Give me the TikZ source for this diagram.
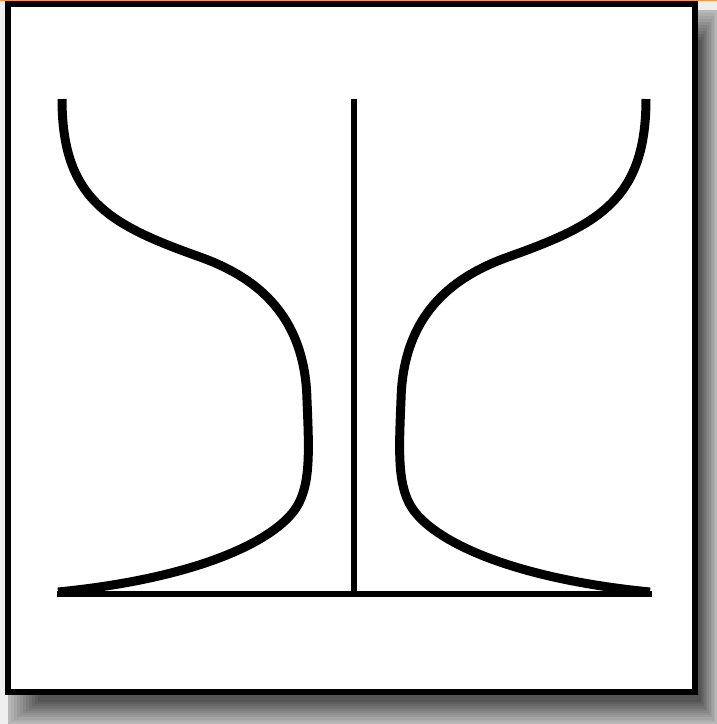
\documentclass[tikz,border=0pt]{standalone}
\usepackage{tikz}
\definecolor{bgcol}{HTML}{EFEFEF}
\definecolor{topline}{HTML}{F7954A}
\tikzset{
  curveline/.style={line width=9pt, line cap=butt, line join=round},
  axisline/.style={line width=6pt, line cap=butt},
  framebox/.style={line width=6pt, draw=black, fill=white},
}
\begin{document}
\begin{tikzpicture}[x=1pt,y=-1pt]
\useasboundingbox (0,0) rectangle (717,724);
% background
\fill[bgcol] (0,0) rectangle (717,724);
\fill[topline] (0,0) rectangle (717,1.4);
% soft drop shadow
\foreach \i in {0,...,10}{
  \pgfmathsetmacro\g{100-(72-3.9*\i)}
  \fill[black!\g] ({8+3*\i},{10+3*\i}) rectangle ({717-1.6*\i},{724-2.2*\i});
}
% frame
\draw[framebox] (8,4) rectangle (695,692);
% named coordinates
\coordinate (baseL) at (57,594);
\coordinate (baseR) at (652,594);
\coordinate (axTop) at (354,99);
\coordinate (axBot) at (354,594);
% base line and axis
\draw[axisline] (baseL) -- (baseR);
\draw[axisline] (axTop) -- (axBot);
% left profile
\coordinate (lTop) at (62,99);
\coordinate (lA) at (200,257);
\coordinate (lB) at (307,400);
\coordinate (lC) at (296,508);
\coordinate (lEnd) at (58,592);
\draw[curveline] (lTop) .. controls (62,200) and (110,225) .. (lA)
  .. controls (250,275) and (305,310) .. (lB)
  .. controls (309,450) and (311,485) .. (lC)
  .. controls (275,540) and (200,578) .. (lEnd);
% right profile (mirror about x = 354)
\coordinate (rTop) at (646,99);
\coordinate (rA) at (508,257);
\coordinate (rB) at (401,400);
\coordinate (rC) at (412,508);
\coordinate (rEnd) at (650,592);
\draw[curveline] (rTop) .. controls (646,200) and (598,225) .. (rA)
  .. controls (458,275) and (403,310) .. (rB)
  .. controls (399,450) and (397,485) .. (rC)
  .. controls (433,540) and (508,578) .. (rEnd);
\end{tikzpicture}
\end{document}
